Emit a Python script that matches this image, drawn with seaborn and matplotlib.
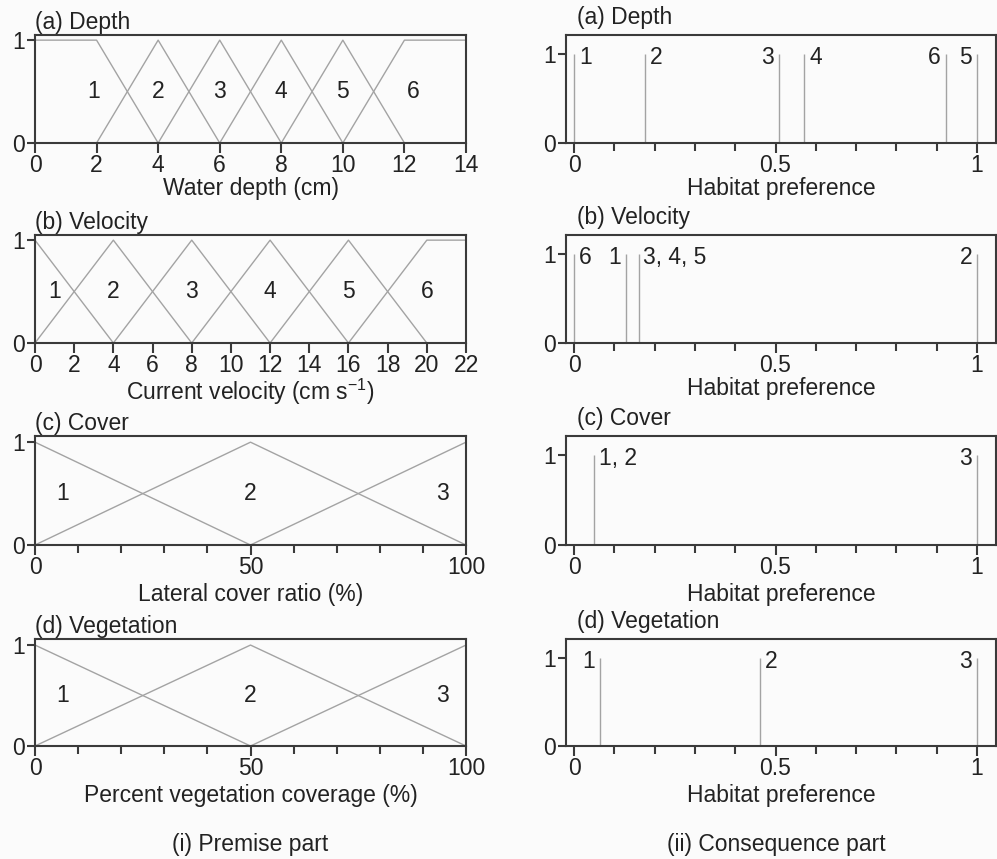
import numpy as np
import pandas as pd
import matplotlib.pyplot as plt
import seaborn as sns
from matplotlib.ticker import MultipleLocator
import matplotlib.transforms as mtransforms

# Premise part: vertices of each membership function
depth_x = [[0, 2, 4], [2, 4, 6], [4, 6, 8], [6, 8, 10], [8, 10, 12], [10, 12, 14]]
depth_y = [[1, 1, 0], [0, 1, 0], [0, 1, 0], [0, 1, 0], [0, 1, 0], [0, 1, 1]]
depth_lab_x = [1.9, 4, 6, 8, 10, 12.3]

vel_x = [[0, 4], [0, 4, 8], [4, 8, 12], [8, 12, 16], [12, 16, 20], [16, 20, 22]]
vel_y = [[1, 0], [0, 1, 0], [0, 1, 0], [0, 1, 0], [0, 1, 0], [0, 1, 1]]
vel_lab_x = [1, 4, 8, 12, 16, 20]

cover_x = [[0, 50], [0, 50, 100], [50, 100]]
cover_y = [[1, 0], [0, 1, 0], [0, 1]]
cover_lab_x = [6.5, 50, 94.5]

veg_x = [[0, 50], [0, 50, 100], [50, 100]]
veg_y = [[1, 0], [0, 1, 0], [0, 1]]
veg_lab_x = [6.5, 50, 94.5]

# Consequence part: habitat preference of each set
depth_pref = [0.0, 0.176, 0.509, 0.571, 0.922, 1.0]
depth_pref_lab = ['1', '2', '3', '4', '6', '5']
depth_pref_side = ['r', 'r', 'l', 'r', 'l', 'l']

vel_pref = [0.0, 0.128, 0.160, 1.0]
vel_pref_lab = ['6', '1', '3, 4, 5', '2']
vel_pref_side = ['r', 'l', 'r', 'l']

cover_pref = [0.05, 1.0]
cover_pref_lab = ['1, 2', '3']
cover_pref_side = ['r', 'l']

veg_pref = [0.065, 0.462, 1.0]
veg_pref_lab = ['1', '2', '3']
veg_pref_side = ['l', 'r', 'l']

sns.set_theme(style='white')
plt.rcParams['font.family'] = ['Liberation Sans', 'DejaVu Sans']
plt.rcParams['mathtext.fontset'] = 'custom'
plt.rcParams['mathtext.rm'] = 'Liberation Sans'
plt.rcParams['mathtext.it'] = 'Liberation Sans'

FS = 16.5
DARK = '#3a3a3a'
GRAY = '#a3a3a3'
TXT = '#222222'
BG = '#fbfbfb'

fig = plt.figure(figsize=(9.97, 8.59), dpi=100, facecolor=BG)

W, H = 997, 859
rows = [(35, 143), (235, 343), (436, 545), (639, 746)]


def make_ax(x0, x1, top, bot):
    ax = fig.add_axes([x0 / W, 1 - bot / H, (x1 - x0) / W, (bot - top) / H])
    ax.set_facecolor(BG)
    for s in ax.spines.values():
        s.set_color(DARK)
        s.set_linewidth(1.5)
    ax.tick_params(which='both', bottom=True, left=True, direction='out', color=DARK,
                   width=1.5, labelsize=FS, labelcolor=TXT, pad=1)
    ax.tick_params(axis='x', which='major', length=7)
    ax.tick_params(axis='x', which='minor', length=6)
    ax.tick_params(axis='y', length=6)
    return ax


def premise(ax, xs, ys, labx, xlim, ymax, title, xlabel, lpad):
    recs = []
    for i, (xx, yy) in enumerate(zip(xs, ys)):
        for a, b in zip(xx, yy):
            recs.append({'set': i, 'x': a, 'y': b})
    df = pd.DataFrame(recs)
    sns.lineplot(data=df, x='x', y='y', units='set', estimator=None, sort=False,
                 color=GRAY, linewidth=1.0, ax=ax)
    for i, lx in enumerate(labx):
        ax.text(lx, 0.5, str(i + 1), ha='center', va='center', fontsize=FS, color=TXT)
    ax.set_xlim(*xlim)
    ax.set_ylim(0, ymax)
    ax.set_yticks([0, 1])
    ax.set_title(title, loc='left', fontsize=FS, pad=4, color=TXT)
    ax.set_xlabel(xlabel, fontsize=FS, labelpad=lpad, color=TXT)
    ax.set_ylabel('')


def consequence(ax, pref, labs, sides, title, lpad):
    ax.vlines(pref, 0, 1, color=GRAY, linewidth=1.0)
    for p, lab, sd in zip(pref, labs, sides):
        off = 3.5 if sd == 'r' else -3.5
        ax.annotate(lab, (p, 0.96), xytext=(off, 0), textcoords='offset points',
                    ha='left' if sd == 'r' else 'right', va='center',
                    fontsize=FS, color=TXT)
    ax.set_xlim(-0.02, 1.047)
    ax.set_ylim(0, 1.21)
    ax.set_yticks([0, 1])
    ax.set_xticks([0, 0.5, 1])
    ax.set_xticklabels(['0', '0.5', '1'])
    ax.xaxis.set_minor_locator(MultipleLocator(0.1))
    ax.set_xlabel('Habitat preference', fontsize=FS, labelpad=lpad, color=TXT)
    trans = mtransforms.blended_transform_factory(ax.transData, ax.transAxes)
    trans = trans + mtransforms.ScaledTranslation(2 / 72, 4 / 72, fig.dpi_scale_trans)
    ax.text(0.0, 1.0, title, transform=trans, ha='left', va='bottom', fontsize=FS, color=TXT)


# left column
ax = make_ax(35, 466, *rows[0])
premise(ax, depth_x, depth_y, depth_lab_x, (0, 14), 1.05, '(a) Depth', 'Water depth (cm)', 0)
ax.set_xticks(np.arange(0, 15, 2))

ax = make_ax(35, 466, *rows[1])
premise(ax, vel_x, vel_y, vel_lab_x, (0, 22), 1.05, '(b) Velocity',
        'Current velocity (cm s$^{-1}$)', 0)
ax.set_xticks(np.arange(0, 23, 2))

ax = make_ax(35, 466, *rows[2])
premise(ax, cover_x, cover_y, cover_lab_x, (0, 100), 1.06, '(c) Cover',
        'Lateral cover ratio (%)', 3)
ax.set_xticks([0, 50, 100])
ax.xaxis.set_minor_locator(MultipleLocator(10))

ax = make_ax(35, 466, *rows[3])
premise(ax, veg_x, veg_y, veg_lab_x, (0, 100), 1.06, '(d) Vegetation',
        'Percent vegetation coverage (%)', 3)
ax.set_xticks([0, 50, 100])
ax.xaxis.set_minor_locator(MultipleLocator(10))

# right column
for k, ((top, bot), pref, labs, sides, title) in enumerate(zip(
        rows,
        [depth_pref, vel_pref, cover_pref, veg_pref],
        [depth_pref_lab, vel_pref_lab, cover_pref_lab, veg_pref_lab],
        [depth_pref_side, vel_pref_side, cover_pref_side, veg_pref_side],
        ['(a) Depth', '(b) Velocity', '(c) Cover', '(d) Vegetation'])):
    ax = make_ax(566, 996, top, bot)
    consequence(ax, pref, labs, sides, title, 0 if k < 2 else 3)

fig.text(250 / W, 1 - 845 / H, '(i) Premise part', ha='center', va='center',
         fontsize=FS, color=TXT)
fig.text(776 / W, 1 - 845 / H, '(ii) Consequence part', ha='center', va='center',
         fontsize=FS, color=TXT)

plt.savefig('out.png', dpi=100, facecolor=BG)
